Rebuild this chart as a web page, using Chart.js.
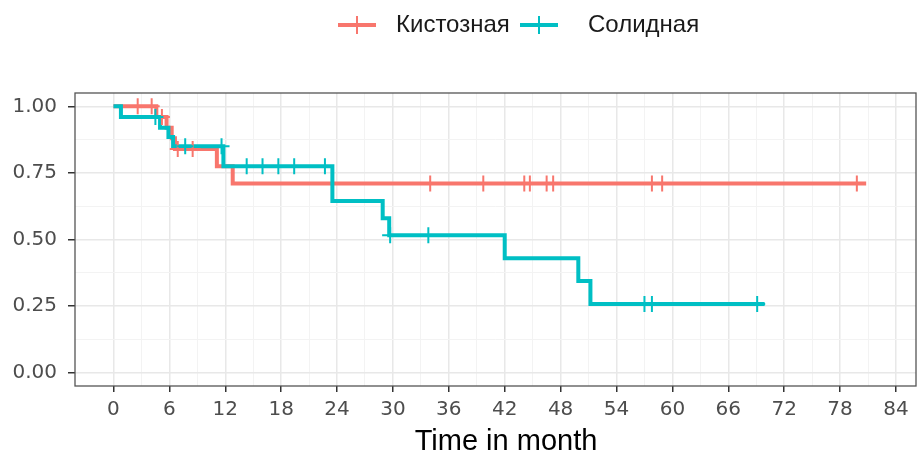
<!DOCTYPE html>
<html>
<head>
<meta charset="utf-8">
<script src="https://cdn.jsdelivr.net/npm/chart.js@4.4.1/dist/chart.umd.min.js"></script>
<style>
  html,body{margin:0;padding:0;background:#fff;}
  #wrap{position:relative;width:922px;height:454px;}
  #legend{position:absolute;top:0;left:0;width:922px;height:50px;
    font-family:"Liberation Sans",Arial,sans-serif;font-size:24px;color:#1a1a1a;}
  .sym{position:absolute;top:16px;width:38px;height:18px;}
  .sym .h{position:absolute;left:0;right:0;top:7px;height:4px;}
  .sym .v{position:absolute;left:18px;width:2px;top:0;bottom:0;}
  .lab{position:absolute;top:11px;line-height:26px;}
</style>
</head>
<body>
<div id="wrap">
  <canvas id="km" width="922" height="454"></canvas>
  <div id="legend"></div>
</div>
<script>
// Данные
const seriesNames = ['Кистозная', 'Солидная'];
const seriesColors = ['#F8766D', '#00BFC4'];

// Кистозная: моменты событий и выживаемость после них
const cystTime = [0, 4.6, 5.7, 6.25, 6.6, 11.1, 12.8, 80.8];
const cystSurv = [1.00, 0.96, 0.92, 0.88, 0.84, 0.775, 0.71, 0.71];
const cystCens = [2.6, 4.1, 5.2, 6.9, 8.5, 34.0, 39.7, 44.1, 44.7, 46.5, 47.2, 57.8, 58.9, 79.8];

// Солидная
const solTime = [0, 0.8, 5.0, 5.9, 6.4, 11.8, 23.5, 28.9, 29.6, 42.0, 49.9, 51.2, 69.9];
const solSurv = [1.00, 0.96, 0.92, 0.885, 0.85, 0.775, 0.645, 0.58, 0.516, 0.43, 0.344, 0.258, 0.258];
const solCens = [4.5, 7.7, 11.6, 14.3, 16.0, 17.7, 19.4, 22.7, 29.7, 33.8, 57.0, 57.8, 69.1];

const xTicks = [0, 6, 12, 18, 24, 30, 36, 42, 48, 54, 60, 66, 72, 78, 84];
const yTicks = [0, 0.25, 0.5, 0.75, 1];
const xTitle = 'Time in month';

// ступенчатая функция: значение кривой в момент t
function survAt(times, surv, t){
  let s = surv[0];
  for(let i=0;i<times.length;i++){ if(times[i] <= t) s = surv[i]; }
  return s;
}
const curve = (times, surv) => times.map((t,i)=>({x:t, y:surv[i]}));
const marks = (cens, times, surv) => cens.map(t=>({x:t, y:survAt(times, surv, t)}));

// сетка: основные линии + промежуточные
const xMinor = xTicks.slice(0,-1).map((v,i)=>(v+xTicks[i+1])/2);
const yMinor = yTicks.slice(0,-1).map((v,i)=>(v+yTicks[i+1])/2);
const xGrid = xTicks.concat(xMinor).sort((a,b)=>a-b);
const yGrid = yTicks.concat(yMinor).sort((a,b)=>a-b);
const isMajor = (arr, v) => arr.some(t=>Math.abs(t-v)<1e-9);

// легенда
const leg = document.getElementById('legend');
const symLeft = [338, 520], labLeft = [396, 588];
seriesNames.forEach((n,i)=>{
  const s = document.createElement('div'); s.className='sym'; s.style.left = symLeft[i]+'px';
  s.innerHTML = `<div class="h" style="background:${seriesColors[i]}"></div><div class="v" style="background:${seriesColors[i]}"></div>`;
  const l = document.createElement('div'); l.className='lab'; l.textContent = n; l.style.left = labLeft[i]+'px';
  leg.appendChild(s); leg.appendChild(l);
});

// рамка панели и подпись оси X
const panelBorder = {
  id:'panelBorder',
  afterDraw(chart){
    const {ctx, chartArea:a} = chart;
    ctx.save();
    ctx.strokeStyle='#555'; ctx.lineWidth=1.3;
    ctx.strokeRect(a.left, a.top, a.right-a.left, a.bottom-a.top);
    ctx.fillStyle='#000';
    ctx.font='29px "Liberation Sans", Arial, sans-serif';
    ctx.textAlign='center'; ctx.textBaseline='alphabetic';
    ctx.fillText(xTitle, 506, 450);
    ctx.restore();
  }
};

const tickFont = {family:'"DejaVu Sans", sans-serif', size:20};

new Chart(document.getElementById('km'), {
  type:'line',
  data:{
    datasets:[
      {data:marks(solCens, solTime, solSurv), showLine:false, pointStyle:'cross', pointRadius:8,
       pointBorderWidth:2, borderColor:seriesColors[1], backgroundColor:seriesColors[1]},
      {data:marks(cystCens, cystTime, cystSurv), showLine:false, pointStyle:'cross', pointRadius:8,
       pointBorderWidth:2, borderColor:seriesColors[0], backgroundColor:seriesColors[0]},
      {data:curve(solTime, solSurv), stepped:'before', borderColor:seriesColors[1], borderWidth:4, pointRadius:0},
      {data:curve(cystTime, cystSurv), stepped:'before', borderColor:seriesColors[0], borderWidth:4, pointRadius:0}
    ]
  },
  options:{
    responsive:false,
    animation:false,
    layout:{autoPadding:false, padding:{top:93, right:6, left:0, bottom:0}},
    plugins:{legend:{display:false}, tooltip:{enabled:false}},
    scales:{
      x:{
        type:'linear', min:-4.13, max:86.15,
        afterBuildTicks: s => { s.ticks = xGrid.map(v=>({value:v})); },
        afterFit: s => { s.height = 68; s.paddingLeft = 0; s.paddingRight = 0; },
        border:{display:false},
        grid:{
          color: c => c.tick && isMajor(xTicks, c.tick.value) ? '#E8E8E8' : '#F3F3F3',
          lineWidth: c => c.tick && isMajor(xTicks, c.tick.value) ? 1.5 : 1,
          tickColor: c => c.tick && isMajor(xTicks, c.tick.value) ? '#333' : 'rgba(0,0,0,0)',
          tickLength:6, tickWidth:1.5
        },
        ticks:{
          autoSkip:false, maxRotation:0, padding:6, color:'#4D4D4D', font:tickFont,
          callback: v => isMajor(xTicks, v) ? String(v) : ''
        }
      },
      y:{
        type:'linear', min:-0.05, max:1.05,
        afterBuildTicks: s => { s.ticks = yGrid.map(v=>({value:v})); },
        afterFit: s => { s.width = 75; },
        border:{display:false},
        grid:{
          color: c => c.tick && isMajor(yTicks, c.tick.value) ? '#E8E8E8' : '#F3F3F3',
          lineWidth: c => c.tick && isMajor(yTicks, c.tick.value) ? 1.5 : 1,
          tickColor: c => c.tick && isMajor(yTicks, c.tick.value) ? '#333' : 'rgba(0,0,0,0)',
          tickLength:7, tickWidth:1.5
        },
        ticks:{
          autoSkip:false, padding:11, color:'#4D4D4D', font:tickFont,
          callback: v => isMajor(yTicks, v) ? v.toFixed(2) : ''
        }
      }
    }
  },
  plugins:[panelBorder]
});
</script>
</body>
</html>
